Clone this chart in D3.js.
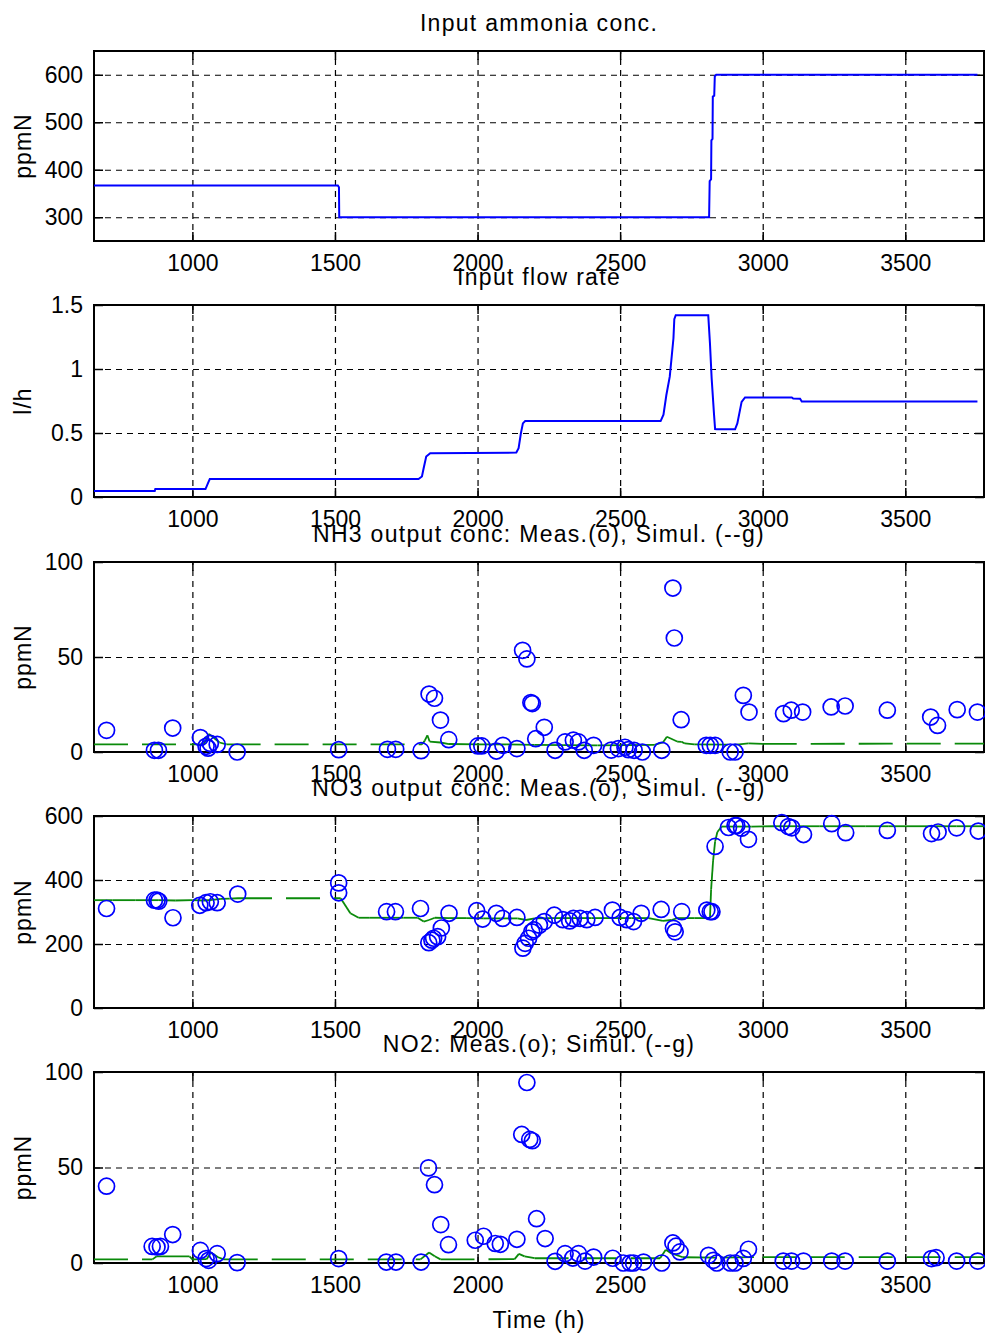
<!DOCTYPE html>
<html>
<head>
<meta charset="utf-8">
<script src="https://cdn.jsdelivr.net/npm/d3@7"></script>
<style>
  body { margin: 0; background: #fff; }
  svg text { font-family: "Liberation Sans", Arial, sans-serif; fill: #000; }
</style>
</head>
<body>
<svg id="chart" width="985" height="1338"></svg>
<script>
// ---- data ----
var timeDomain = [655, 3776];
var timeTicks = [1000, 1500, 2000, 2500, 3000, 3500];

var titles = ["Input ammonia conc.", "Input flow rate", "NH3 output conc: Meas.(o), Simul. (--g)",
              "NO3 output conc: Meas.(o), Simul. (--g)", "NO2: Meas.(o); Simul. (--g)"];
var yLabels = ["ppmN", "l/h", "ppmN", "ppmN", "ppmN"];
var yDomains = [[250, 650], [0, 1.5], [0, 100], [0, 600], [0, 100]];
var yTicks = [[300, 400, 500, 600], [0, 0.5, 1, 1.5], [0, 50, 100], [0, 200, 400, 600], [0, 50, 100]];

// input ammonia (ppmN)
var ammoniaT = [655, 1510, 1514, 1515, 2812, 2814, 2819, 2820, 2824, 2825, 2830, 2832, 2837, 3753];
var ammoniaV = [367, 367, 363, 300, 300, 376, 380, 462, 465, 554, 556, 597, 600, 600];

// input flow rate (l/h)
var flowT = [655, 868, 870, 1046, 1057, 1061, 1793, 1805, 1811, 1820, 1834, 2136, 2144, 2152, 2159, 2167,
             2642, 2652, 2662, 2674, 2681, 2687, 2690, 2695, 2809, 2815, 2821, 2829, 2833, 2839,
             2903, 2911, 2918, 2926, 2938, 3102, 3107, 3131, 3137, 3753];
var flowV = [0.047, 0.047, 0.062, 0.062, 0.12, 0.14, 0.14, 0.16, 0.225, 0.316, 0.342, 0.347, 0.381, 0.498, 0.575, 0.593,
             0.593, 0.643, 0.795, 0.94, 1.1, 1.24, 1.39, 1.42, 1.42, 1.2, 0.925, 0.653, 0.53, 0.529,
             0.529, 0.575, 0.653, 0.743, 0.778, 0.778, 0.77, 0.767, 0.746, 0.746];

// NH3 output
var nh3MeasT = [699, 867, 881, 931, 1028, 1048, 1055, 1063, 1087, 1157, 1513, 1684, 1713, 1802, 1830, 1849, 1870, 1899,
                2001, 2015, 2066, 2089, 2138, 2158, 2173, 2187, 2192, 2204, 2234, 2272, 2307, 2336, 2354, 2374, 2407,
                2469, 2494, 2517, 2529, 2549, 2578, 2646, 2685, 2690, 2714, 2802, 2816, 2833, 2886, 2903, 2932, 2952,
                3073, 3100, 3140, 3240, 3289, 3437, 3589, 3613, 3682, 3753];
var nh3MeasV = [11.4, 0.9, 0.9, 12.6, 7.6, 3, 2, 4.5, 4, 0, 1.2, 1.4, 1.4, 0.7, 30.5, 28.3, 16.8, 6.5,
                3.2, 3.2, 0.5, 3.5, 1.8, 53.5, 49, 26, 25.5, 7, 13, 0.9, 5.3, 6.2, 5.3, 0.9, 3.5,
                1, 1.8, 2.5, 1.2, 0.9, 0, 0.9, 86.3, 60, 17, 3.5, 3.5, 3.5, 0, 0, 29.8, 21,
                20.2, 22, 21, 23.7, 24.2, 22, 18.4, 14, 22.3, 21];
var nh3SimT = [655, 1040, 1058, 1075, 1095, 1120, 1805, 1815, 1824, 1832, 1870, 1900, 2000, 2100, 2200, 2300, 2420,
               2520, 2620, 2650, 2664, 2700, 2716, 2727, 2760, 2900, 2950, 3000, 3776];
var nh3SimV = [4, 4, 9.5, 7.5, 5, 4, 4, 6, 8.8, 5.5, 5, 4.2, 4, 4, 3.8, 3.6, 3.5,
               3.6, 3.8, 5, 8, 5.5, 5.3, 4.5, 4, 3.8, 4.5, 4.3, 4.4];

// NO3 output
var no3MeasT = [699, 867, 876, 882, 932, 1026, 1048, 1063, 1087, 1159, 1513, 1513, 1681, 1712, 1800, 1829, 1840, 1846,
                1860, 1873, 1900, 1997, 2018, 2066, 2088, 2138, 2159, 2167, 2179, 2190, 2198, 2217, 2234, 2269,
                2299, 2323, 2336, 2360, 2383, 2412, 2473, 2500, 2523, 2547, 2574, 2644, 2687, 2693, 2716,
                2804, 2816, 2822, 2833, 2880, 2903, 2909, 2926, 2950, 3067, 3090, 3102, 3143, 3242, 3291,
                3437, 3592, 3615, 3680, 3756];
var no3MeasV = [311, 337, 337, 334, 282, 321, 329, 332, 329, 356, 391, 360, 301, 301, 311, 204, 212, 218,
                223, 250, 296, 304, 278, 296, 280, 283, 187, 202, 218, 238, 244, 259, 270, 290,
                276, 272, 280, 280, 276, 283, 306, 283, 276, 270, 296, 308, 249, 238, 301,
                306, 301, 301, 505, 564, 570, 570, 562, 527, 579, 567, 563, 542, 576, 548,
                555, 545, 550, 563, 553];
var no3SimT = [655, 720, 800, 880, 940, 1000, 1040, 1070, 1100, 1130, 1160, 1520, 1554, 1583, 1620, 1660, 1700, 1740,
               1790, 1811, 1830, 1850, 1900, 1960, 2020, 2080, 2140, 2170, 2200, 2260, 2330, 2400, 2470, 2540,
               2600, 2650, 2680, 2700, 2760, 2815, 2819, 2826, 2833, 2841, 2856, 2900, 2960, 3040, 3120,
               3200, 3280, 3360, 3440, 3520, 3600, 3680, 3776];
var no3SimV = [337, 337, 337, 337, 336, 337, 336, 338, 341, 342, 343, 343, 296, 282, 282, 282, 282, 282,
               282, 270, 275, 282, 281, 281, 280, 280, 280, 275, 280, 281, 281, 281, 281, 281,
               281, 272, 275, 281, 281, 281, 370, 460, 520, 550, 567, 567, 567, 568, 568,
               568, 568, 568, 568, 568, 568, 568, 568];

// NO2 output
var no2MeasT = [699, 859, 876, 888, 931, 1028, 1048, 1057, 1087, 1157, 1513, 1680, 1714, 1802, 1828, 1849, 1871, 1898,
                1992, 2021, 2062, 2080, 2138, 2155, 2173, 2183, 2192, 2207, 2237, 2272, 2307, 2334, 2354, 2377,
                2407, 2474, 2511, 2535, 2547, 2582, 2646, 2685, 2696, 2710, 2810, 2827, 2839, 2886, 2903,
                2932, 2950, 3072, 3101, 3143, 3242, 3289, 3437, 3592, 3608, 3680, 3754];
var no2MeasV = [40.2, 8.7, 8.4, 8.7, 14.9, 6.6, 2.3, 1.4, 4.9, 0.2, 2.3, 0.5, 0.5, 0.5, 49.8, 41, 20.1, 9.6,
                11.9, 14, 10.2, 9.8, 12.4, 67.3, 94.5, 64.7, 64, 23.2, 12.8, 0.9, 4.9, 2.6, 4.9, 1,
                3.1, 2.5, 0, 0, 0, 0.5, 0, 10.5, 8.8, 5.8, 4, 1.4, 0, 0, 0,
                2.4, 7.2, 1, 1, 1, 1, 1, 1, 2.3, 2.8, 1, 1];
var no2SimT = [655, 860, 875, 990, 1000, 1050, 1065, 1090, 1110, 1800, 1830, 1850, 1870, 2130, 2145, 2165, 2200,
               2640, 2660, 2680, 2720, 2850, 3000, 3776];
var no2SimV = [1.9, 1.9, 3.5, 3.5, 1.9, 2, 5.5, 3, 1.9, 1.9, 5.5, 3.5, 1.9, 2, 4.8, 3.5, 2.5,
               2.5, 7, 5, 3, 2.8, 3.1, 3.1];

// ---- layout ----
var svg = d3.select("#chart");
var left = 94, right = 984;
var tops = [51, 305, 562, 816, 1072];
var bottoms = [241, 497, 752, 1008, 1263];
var fontSize = 23;

var x = d3.scaleLinear().domain(timeDomain).range([left, right]);
var plain = function (d) { return String(d); };

function zip(t, v) { return t.map(function (d, i) { return [d, v[i]]; }); }

var panels = [
  { line: zip(ammoniaT, ammoniaV) },
  { line: zip(flowT, flowV) },
  { meas: zip(nh3MeasT, nh3MeasV), sim: zip(nh3SimT, nh3SimV) },
  { meas: zip(no3MeasT, no3MeasV), sim: zip(no3SimT, no3SimV) },
  { meas: zip(no2MeasT, no2MeasV), sim: zip(no2SimT, no2SimV) }
];

panels.forEach(function (p, k) {
  var top = tops[k], bottom = bottoms[k], h = bottom - top, w = right - left;
  var y = d3.scaleLinear().domain(yDomains[k]).range([bottom, top]);
  var g = svg.append("g");

  /*
      Grid
  */
  var gx = g.append("g").attr("transform", "translate(0," + bottom + ")")
    .call(d3.axisBottom(x).tickValues(timeTicks).tickSize(-h).tickFormat(""));
  var gy = g.append("g").attr("transform", "translate(" + left + ",0)")
    .call(d3.axisLeft(y).tickValues(yTicks[k].filter(function (d) {
      return d !== yDomains[k][0] && d !== yDomains[k][1];
    })).tickSize(-w).tickFormat(""));
  [gx, gy].forEach(function (a) {
    a.select(".domain").remove();
    a.selectAll("line").attr("stroke", "#000").attr("stroke-width", 1.2).attr("stroke-dasharray", "6,5");
  });

  /*
      Inner ticks + labels
  */
  var bx = g.append("g").attr("transform", "translate(0," + bottom + ")")
    .call(d3.axisBottom(x).tickValues(timeTicks).tickSize(-9).tickPadding(14).tickFormat(plain));
  var tx = g.append("g").attr("transform", "translate(0," + top + ")")
    .call(d3.axisTop(x).tickValues(timeTicks).tickSize(-9).tickFormat(""));
  var ly = g.append("g").attr("transform", "translate(" + left + ",0)")
    .call(d3.axisLeft(y).tickValues(yTicks[k]).tickSize(-9).tickPadding(11).tickFormat(plain));
  var ry = g.append("g").attr("transform", "translate(" + right + ",0)")
    .call(d3.axisRight(y).tickValues(yTicks[k]).tickSize(-9).tickFormat(""));
  [bx, tx, ly, ry].forEach(function (a) {
    a.select(".domain").remove();
    a.selectAll("line").attr("stroke", "#000").attr("stroke-width", 1.5);
    a.selectAll("text").attr("font-size", fontSize)
      .attr("font-family", "Liberation Sans, Arial, sans-serif").attr("fill", "#000");
  });

  /*
      Box
  */
  g.append("rect")
    .attr("x", left).attr("y", top).attr("width", w).attr("height", h)
    .attr("fill", "none").attr("stroke", "#000").attr("stroke-width", 2);

  /*
      Series
  */
  if (p.line) {
    g.append("path").datum(p.line)
      .attr("d", d3.line().x(function (d) { return x(d[0]); }).y(function (d) { return y(d[1]); }))
      .attr("fill", "none").attr("stroke", "#0000ff").attr("stroke-width", 2);
  }
  if (p.sim) {
    g.append("g").selectAll("line").data(d3.pairs(p.sim)).join("line")
      .attr("x1", function (d) { return x(d[0][0]); })
      .attr("y1", function (d) { return y(d[0][1]); })
      .attr("x2", function (d) { return x(d[1][0]); })
      .attr("y2", function (d) { return y(d[1][1]); })
      .attr("stroke", "#0a8a0a").attr("stroke-width", 1.8)
      .attr("stroke-dasharray", "34,14");
  }
  if (p.meas) {
    g.append("g").selectAll("circle").data(p.meas).join("circle")
      .attr("cx", function (d) { return x(d[0]); })
      .attr("cy", function (d) { return y(d[1]); })
      .attr("r", 8)
      .attr("fill", "none").attr("stroke", "#0000ff").attr("stroke-width", 1.7);
  }

  /*
      Titles
  */
  g.append("text")
    .attr("x", (left + right) / 2).attr("y", top - 20)
    .attr("text-anchor", "middle").attr("font-size", fontSize)
    .attr("letter-spacing", "1.3px")
    .text(titles[k]);
  g.append("text")
    .attr("transform", "translate(31," + (top + bottom) / 2 + ") rotate(-90)")
    .attr("text-anchor", "middle").attr("font-size", fontSize)
    .attr("letter-spacing", "1px")
    .text(yLabels[k]);
});

svg.append("text")
  .attr("x", (left + right) / 2).attr("y", 1328)
  .attr("text-anchor", "middle").attr("font-size", fontSize)
  .attr("letter-spacing", "1px")
  .text("Time (h)");
</script>
</body>
</html>
